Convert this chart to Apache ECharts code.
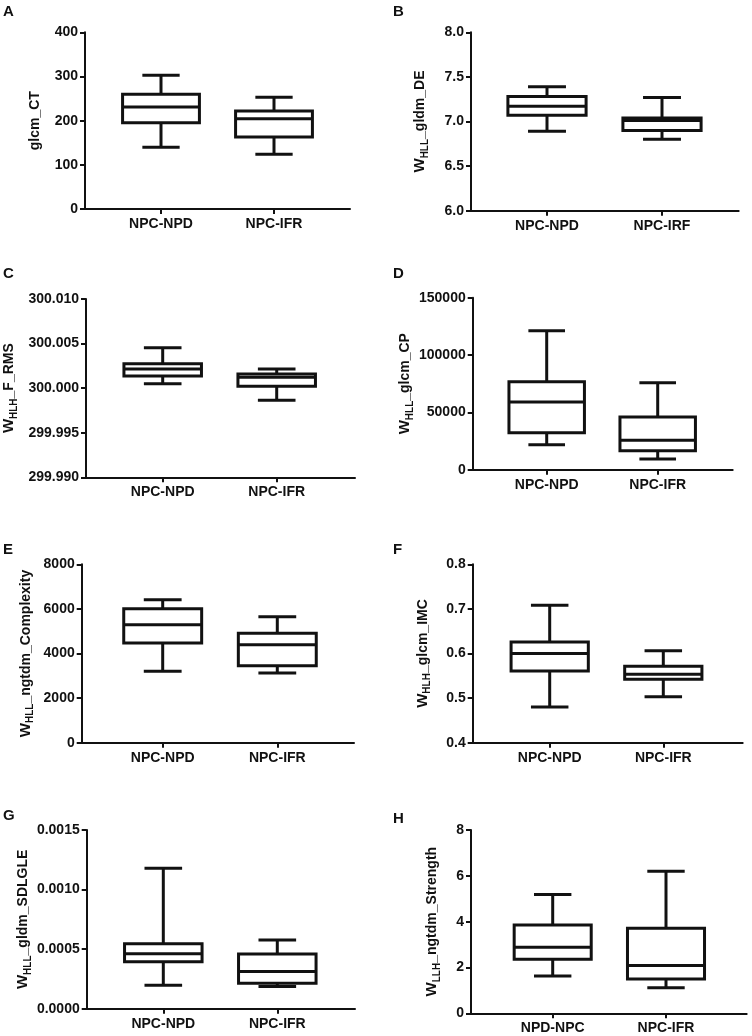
<!DOCTYPE html>
<html>
<head>
<meta charset="utf-8">
<script src="https://cdn.jsdelivr.net/npm/echarts@6/dist/echarts.min.js"></script>
<style>
html,body{margin:0;padding:0;background:#fff;}
#chart{width:752px;height:1036px;}
</style>
</head>
<body>
<div id="chart"></div>
<script>
// ---------- DATA ----------
const panelLetters = ['A', 'B', 'C', 'D', 'E', 'F', 'G', 'H'];
const yNameW = ['', 'W', 'W', 'W', 'W', 'W', 'W', 'W'];
const yNameSub = ['', 'HLL', 'HLH', 'HLL', 'HLL', 'HLH', 'HLL', 'LLH'];
const yNameRest = ['glcm_CT', '_gldm_DE', '_F_RMS', '_glcm_CP', '_ngtdm_Complexity', '_glcm_IMC', '_gldm_SDLGLE', '_ngtdm_Strength'];

const categoriesA = ['NPC-NPD', 'NPC-IFR'];
const categoriesB = ['NPC-NPD', 'NPC-IRF'];
const categoriesC = ['NPC-NPD', 'NPC-IFR'];
const categoriesD = ['NPC-NPD', 'NPC-IFR'];
const categoriesE = ['NPC-NPD', 'NPC-IFR'];
const categoriesF = ['NPC-NPD', 'NPC-IFR'];
const categoriesG = ['NPC-NPD', 'NPC-IFR'];
const categoriesH = ['NPD-NPC', 'NPC-IFR'];

// [min, Q1, median, Q3, max] per group
const boxA = [[140, 195, 231, 260, 303], [124, 163, 204.5, 222, 253]];
const boxB = [[6.89, 7.07, 7.17, 7.28, 7.39], [6.80, 6.90, 7.01, 7.04, 7.27]];
const boxC = [[300.0005, 300.00136, 300.00215, 300.00275, 300.00454], [299.99863, 300.0002, 300.00121, 300.00159, 300.00215]];
const boxD = [[21800, 32300, 59000, 76700, 121200], [9300, 16600, 25600, 45900, 75900]];
const boxE = [[3200, 4471, 5293, 6011, 6415], [3125, 3454, 4396, 4905, 5652]];
const boxF = [[0.480, 0.5607, 0.600, 0.6258, 0.708], [0.503, 0.542, 0.5533, 0.5712, 0.6064]];
const boxG = [[0.000196, 0.000395, 0.000462, 0.000546, 0.001178], [0.000187, 0.000213, 0.000313, 0.000459, 0.000576]];
const boxH = [[1.63, 2.36, 2.88, 3.85, 5.19], [1.12, 1.50, 2.09, 3.71, 6.20]];

// y axis ticks: [min, max, interval, decimals]
const yTicksA = [0, 400, 100, 0];
const yTicksB = [6, 8, 0.5, 1];
const yTicksC = [299.99, 300.01, 0.005, 3];
const yTicksD = [0, 150000, 50000, 0];
const yTicksE = [0, 8000, 2000, 0];
const yTicksF = [0.4, 0.8, 0.1, 1];
const yTicksG = [0, 0.0015, 0.0005, 4];
const yTicksH = [0, 8, 2, 0];

const allCats = [categoriesA, categoriesB, categoriesC, categoriesD, categoriesE, categoriesF, categoriesG, categoriesH];
const allBoxes = [boxA, boxB, boxC, boxD, boxE, boxF, boxG, boxH];
const allTicks = [yTicksA, yTicksB, yTicksC, yTicksD, yTicksE, yTicksF, yTicksG, yTicksH];

// ---------- LAYOUT (pixels) ----------
// [axisX, yTop, yBottom, axisEnd, center1, center2, nameGap, letterX, letterY]
const layout = [
  [85, 32.3, 209, 350, 161, 274, 42, 3, 4],
  [471, 32.3, 210.7, 738.7, 547, 662, 43, 393, 4],
  [86, 299, 477.3, 355, 162.7, 276.7, 69, 3, 266],
  [472.7, 297.7, 469.7, 732.7, 546.7, 657.7, 55, 393, 266],
  [81.7, 564.3, 742.7, 354, 162.7, 277.3, 48, 3, 542],
  [472.7, 564.3, 742.7, 742.7, 549.7, 663.3, 42, 393, 542],
  [86.7, 830, 1008.7, 355, 163.3, 277.3, 55, 3, 808],
  [471, 830, 1013.3, 746.7, 552.7, 666, 31, 393, 811]
];

const FONT = "'Liberation Sans', Arial, Helvetica, sans-serif";
const INK = '#111';

function renderBox(params, api) {
  const x = api.value(0);
  const lo = api.coord([x, api.value(1)]);
  const q1 = api.coord([x, api.value(2)]);
  const md = api.coord([x, api.value(3)]);
  const q3 = api.coord([x, api.value(4)]);
  const hi = api.coord([x, api.value(5)]);
  const band = api.size([1, 0])[0];
  const hw = band * 0.34;
  const cw = band * 0.165;
  const cx = lo[0];
  const st = { stroke: INK, lineWidth: 3, fill: null };
  return {
    type: 'group',
    children: [
      { type: 'line', shape: { x1: cx, y1: hi[1], x2: cx, y2: q3[1] }, style: st },
      { type: 'line', shape: { x1: cx, y1: q1[1], x2: cx, y2: lo[1] }, style: st },
      { type: 'line', shape: { x1: cx - cw, y1: hi[1], x2: cx + cw, y2: hi[1] }, style: st },
      { type: 'line', shape: { x1: cx - cw, y1: lo[1], x2: cx + cw, y2: lo[1] }, style: st },
      { type: 'rect', shape: { x: cx - hw, y: q3[1], width: 2 * hw, height: q1[1] - q3[1] }, style: { stroke: INK, lineWidth: 3, fill: '#fff' } },
      { type: 'line', shape: { x1: cx - hw, y1: md[1], x2: cx + hw, y2: md[1] }, style: st }
    ]
  };
}

const grid = [], xAxis = [], yAxis = [], series = [], graphic = [];

for (let p = 0; p < 8; p++) {
  const L = layout[p];
  const [axisX, yTop, yBot, axisEnd, c1, c2, nameGap, lx, ly] = L;
  const t = allTicks[p];
  const h = yBot - yTop;
  grid.push({ left: axisX, top: yTop, width: axisEnd - axisX, height: h, outerBoundsMode: 'none', containLabel: false });
  const bw = 2 * (c2 - c1);
  grid.push({ left: c1 - bw / 4, top: yTop, width: bw, height: h, outerBoundsMode: 'none', containLabel: false });
  const gFrame = 2 * p, gBox = 2 * p + 1;

  xAxis.push({
    type: 'value', gridIndex: gFrame, min: 0, max: 1,
    axisLine: { show: true, onZero: false, lineStyle: { color: INK, width: 2 } },
    axisTick: { show: false }, axisLabel: { show: false }, splitLine: { show: false }
  });
  xAxis.push({
    type: 'category', gridIndex: gBox, data: allCats[p], boundaryGap: true,
    axisLine: { show: false },
    axisTick: { show: true, alignWithLabel: true, length: 5, lineStyle: { color: INK, width: 2 } },
    axisLabel: { show: true, margin: 8, color: INK, fontFamily: FONT, fontWeight: 'bold', fontSize: 14 },
    splitLine: { show: false }
  });

  const dec = t[3];
  const nameStr = yNameW[p] ? '{w|' + yNameW[p] + '}{s|' + yNameSub[p] + '}{m|' + yNameRest[p] + '}' : '{m|' + yNameRest[p] + '}';
  yAxis.push({
    type: 'value', gridIndex: gFrame, min: t[0], max: t[1], interval: t[2],
    name: nameStr, nameLocation: 'middle', nameGap: nameGap, nameRotate: 90,
    nameTextStyle: {
      color: INK,
      rich: {
        m: { fontFamily: FONT, fontWeight: 'bold', fontSize: 14, color: INK, lineHeight: 16, height: 16, verticalAlign: 'bottom' },
        w: { fontFamily: FONT, fontWeight: 'bold', fontSize: 15, color: INK, lineHeight: 16, height: 16, verticalAlign: 'bottom' },
        s: { fontFamily: FONT, fontWeight: 'bold', fontSize: 10, color: INK, lineHeight: 6, height: 6, verticalAlign: 'bottom' }
      }
    },
    axisLine: { show: true, onZero: false, lineStyle: { color: INK, width: 2 } },
    axisTick: { show: true, length: 5, lineStyle: { color: INK, width: 2 } },
    axisLabel: {
      show: true, margin: 7, color: INK, fontFamily: FONT, fontWeight: 'bold', fontSize: 14,
      formatter: function (v) { return Number(v).toFixed(dec); }
    },
    splitLine: { show: false }
  });
  yAxis.push({
    type: 'value', gridIndex: gBox, min: t[0], max: t[1], interval: t[2], show: false,
    splitLine: { show: false }
  });

  series.push({
    type: 'custom', xAxisIndex: gBox, yAxisIndex: gBox,
    renderItem: renderBox,
    encode: { x: 0, y: [1, 2, 3, 4, 5] },
    data: allBoxes[p].map(function (b, i) { return [i].concat(b); }),
    silent: true, animation: false
  });

  graphic.push({
    type: 'text', left: lx, top: ly,
    style: { text: panelLetters[p], fontFamily: FONT, fontWeight: 'bold', fontSize: 15, fill: INK }
  });
}

const chart = echarts.init(document.getElementById('chart'), null, { renderer: 'canvas' });
chart.setOption({
  backgroundColor: '#fff',
  animation: false,
  grid: grid, xAxis: xAxis, yAxis: yAxis, series: series, graphic: graphic
});
</script>
</body>
</html>
